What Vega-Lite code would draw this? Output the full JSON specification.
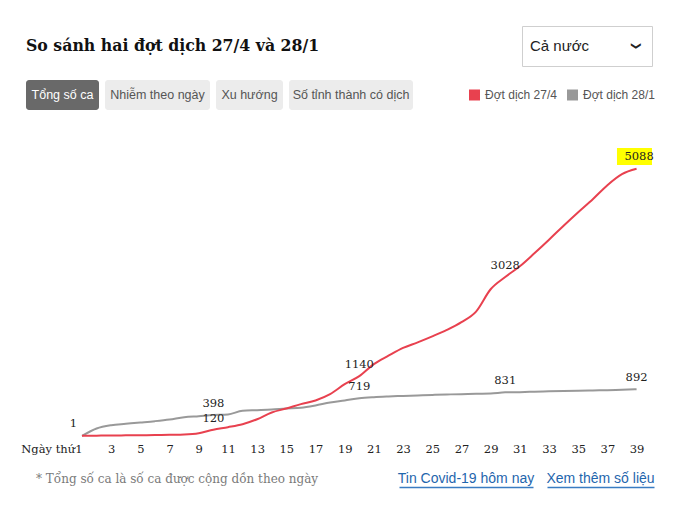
{
  "$schema": "https://vega.github.io/schema/vega-lite/v6.json",
  "background": "white",
  "padding": {"left": 20, "top": 25, "right": 10, "bottom": 10},
  "spacing": 33,
  "config": {"view": {"stroke": null}, "text": {"font": "Liberation Sans"}},
  "datasets": {
    "cases": [
      {"day": 1, "series": "Đợt dịch 28/1", "cases": 1},
      {"day": 2, "series": "Đợt dịch 28/1", "cases": 143},
      {"day": 3, "series": "Đợt dịch 28/1", "cases": 206},
      {"day": 4, "series": "Đợt dịch 28/1", "cases": 232},
      {"day": 5, "series": "Đợt dịch 28/1", "cases": 257},
      {"day": 6, "series": "Đợt dịch 28/1", "cases": 283},
      {"day": 7, "series": "Đợt dịch 28/1", "cases": 315},
      {"day": 8, "series": "Đợt dịch 28/1", "cases": 359},
      {"day": 9, "series": "Đợt dịch 28/1", "cases": 378},
      {"day": 10, "series": "Đợt dịch 28/1", "cases": 398},
      {"day": 11, "series": "Đợt dịch 28/1", "cases": 410},
      {"day": 12, "series": "Đợt dịch 28/1", "cases": 480},
      {"day": 13, "series": "Đợt dịch 28/1", "cases": 492},
      {"day": 14, "series": "Đợt dịch 28/1", "cases": 505},
      {"day": 15, "series": "Đợt dịch 28/1", "cases": 524},
      {"day": 16, "series": "Đợt dịch 28/1", "cases": 538},
      {"day": 17, "series": "Đợt dịch 28/1", "cases": 582},
      {"day": 18, "series": "Đợt dịch 28/1", "cases": 639},
      {"day": 19, "series": "Đợt dịch 28/1", "cases": 677},
      {"day": 20, "series": "Đợt dịch 28/1", "cases": 719},
      {"day": 21, "series": "Đợt dịch 28/1", "cases": 740},
      {"day": 22, "series": "Đợt dịch 28/1", "cases": 753},
      {"day": 23, "series": "Đợt dịch 28/1", "cases": 763},
      {"day": 24, "series": "Đợt dịch 28/1", "cases": 772},
      {"day": 25, "series": "Đợt dịch 28/1", "cases": 782},
      {"day": 26, "series": "Đợt dịch 28/1", "cases": 791},
      {"day": 27, "series": "Đợt dịch 28/1", "cases": 797},
      {"day": 28, "series": "Đợt dịch 28/1", "cases": 805},
      {"day": 29, "series": "Đợt dịch 28/1", "cases": 810},
      {"day": 30, "series": "Đợt dịch 28/1", "cases": 831},
      {"day": 31, "series": "Đợt dịch 28/1", "cases": 835},
      {"day": 32, "series": "Đợt dịch 28/1", "cases": 843},
      {"day": 33, "series": "Đợt dịch 28/1", "cases": 850},
      {"day": 34, "series": "Đợt dịch 28/1", "cases": 856},
      {"day": 35, "series": "Đợt dịch 28/1", "cases": 862},
      {"day": 36, "series": "Đợt dịch 28/1", "cases": 868},
      {"day": 37, "series": "Đợt dịch 28/1", "cases": 873},
      {"day": 38, "series": "Đợt dịch 28/1", "cases": 882},
      {"day": 39, "series": "Đợt dịch 28/1", "cases": 892},
      {"day": 1, "series": "Đợt dịch 27/4", "cases": 4},
      {"day": 2, "series": "Đợt dịch 27/4", "cases": 6},
      {"day": 3, "series": "Đợt dịch 27/4", "cases": 10},
      {"day": 4, "series": "Đợt dịch 27/4", "cases": 12},
      {"day": 5, "series": "Đợt dịch 27/4", "cases": 14},
      {"day": 6, "series": "Đợt dịch 27/4", "cases": 17},
      {"day": 7, "series": "Đợt dịch 27/4", "cases": 23},
      {"day": 8, "series": "Đợt dịch 27/4", "cases": 29},
      {"day": 9, "series": "Đợt dịch 27/4", "cases": 53},
      {"day": 10, "series": "Đợt dịch 27/4", "cases": 120},
      {"day": 11, "series": "Đợt dịch 27/4", "cases": 168},
      {"day": 12, "series": "Đợt dịch 27/4", "cases": 225},
      {"day": 13, "series": "Đợt dịch 27/4", "cases": 320},
      {"day": 14, "series": "Đợt dịch 27/4", "cases": 448},
      {"day": 15, "series": "Đợt dịch 27/4", "cases": 524},
      {"day": 16, "series": "Đợt dịch 27/4", "cases": 607},
      {"day": 17, "series": "Đợt dịch 27/4", "cases": 677},
      {"day": 18, "series": "Đợt dịch 27/4", "cases": 797},
      {"day": 19, "series": "Đợt dịch 27/4", "cases": 988},
      {"day": 20, "series": "Đợt dịch 27/4", "cases": 1140},
      {"day": 21, "series": "Đợt dịch 27/4", "cases": 1369},
      {"day": 22, "series": "Đợt dịch 27/4", "cases": 1529},
      {"day": 23, "series": "Đợt dịch 27/4", "cases": 1678},
      {"day": 24, "series": "Đợt dịch 27/4", "cases": 1783},
      {"day": 25, "series": "Đợt dịch 27/4", "cases": 1897},
      {"day": 26, "series": "Đợt dịch 27/4", "cases": 2021},
      {"day": 27, "series": "Đợt dịch 27/4", "cases": 2170},
      {"day": 28, "series": "Đợt dịch 27/4", "cases": 2370},
      {"day": 29, "series": "Đợt dịch 27/4", "cases": 2795},
      {"day": 30, "series": "Đợt dịch 27/4", "cases": 3028},
      {"day": 31, "series": "Đợt dịch 27/4", "cases": 3232},
      {"day": 32, "series": "Đợt dịch 27/4", "cases": 3480},
      {"day": 33, "series": "Đợt dịch 27/4", "cases": 3738},
      {"day": 34, "series": "Đợt dịch 27/4", "cases": 4005},
      {"day": 35, "series": "Đợt dịch 27/4", "cases": 4262},
      {"day": 36, "series": "Đợt dịch 27/4", "cases": 4510},
      {"day": 37, "series": "Đợt dịch 27/4", "cases": 4777},
      {"day": 38, "series": "Đợt dịch 27/4", "cases": 4987},
      {"day": 39, "series": "Đợt dịch 27/4", "cases": 5088}
    ]
  },
  "vconcat": [
    {
      "vconcat": [
        {
          "hconcat": [
            {
              "width": 495, "height": 40,
              "data": {"values": [{"t": "So sánh hai đợt dịch 27/4 và 28/1"}]},
              "mark": {"type": "text", "align": "left", "baseline": "middle", "font": "DejaVu Serif Condensed, DejaVu Serif", "fontSize": 17.5, "fontWeight": "bold", "color": "#111111"},
              "encoding": {
                "x": {"field": "t", "type": "nominal", "scale": {"type": "point", "align": 0}, "axis": null},
                "text": {"field": "t"}
              }
            },
            {
              "width": 130, "height": 40,
              "view": {"stroke": "#cfcfcf", "strokeWidth": 1, "fill": "white"},
              "data": {"values": [{"t": "Cả nước", "icon": "❯"}]},
              "layer": [
                {
                  "mark": {"type": "text", "align": "left", "baseline": "middle", "dx": 8, "fontSize": 15, "color": "#222222"},
                  "encoding": {
                    "x": {"field": "t", "type": "nominal", "scale": {"type": "point", "align": 0}, "axis": null},
                    "text": {"field": "t"}
                  }
                },
                {
                  "mark": {"type": "text", "align": "center", "baseline": "middle", "angle": 90, "dy": 16, "font": "DejaVu Sans", "fontSize": 10, "fontWeight": "bold", "color": "#222222"},
                  "encoding": {
                    "x": {"field": "icon", "type": "nominal", "scale": {"type": "point", "align": 1}, "axis": null},
                    "text": {"field": "icon"}
                  }
                }
              ],
              "resolve": {"scale": {"x": "independent"}}
            }
          ],
          "spacing": 0
        },
        {
          "hconcat": [
            {
              "hconcat": [
                {
                  "width": 73, "height": 30,
                  "view": {"fill": "#696969", "stroke": null, "cornerRadius": 3},
                  "data": {"values": [{"t": "Tổng số ca"}]},
                  "mark": {"type": "text", "baseline": "middle", "fontSize": 12.5, "color": "white"},
                  "encoding": {"text": {"field": "t"}}
                },
                {
                  "width": 105, "height": 30,
                  "view": {"fill": "#ececec", "stroke": null, "cornerRadius": 3},
                  "data": {"values": [{"t": "Nhiễm theo ngày"}]},
                  "mark": {"type": "text", "baseline": "middle", "fontSize": 12.5, "color": "#555555"},
                  "encoding": {"text": {"field": "t"}}
                },
                {
                  "width": 67, "height": 30,
                  "view": {"fill": "#ececec", "stroke": null, "cornerRadius": 3},
                  "data": {"values": [{"t": "Xu hướng"}]},
                  "mark": {"type": "text", "baseline": "middle", "fontSize": 12.5, "color": "#555555"},
                  "encoding": {"text": {"field": "t"}}
                },
                {
                  "width": 124, "height": 30,
                  "view": {"fill": "#ececec", "stroke": null, "cornerRadius": 3},
                  "data": {"values": [{"t": "Số tỉnh thành có dịch"}]},
                  "mark": {"type": "text", "baseline": "middle", "fontSize": 12.5, "color": "#555555"},
                  "encoding": {"text": {"field": "t"}}
                }
              ],
              "spacing": 6
            },
            {
              "width": 98, "height": 30,
              "data": {"values": [{"s": "Đợt dịch 27/4"}, {"s": "Đợt dịch 28/1"}]},
              "encoding": {
                "x": {"field": "s", "type": "nominal", "scale": {"type": "point", "padding": 0}, "axis": null}
              },
              "layer": [
                {
                  "mark": {"type": "point", "shape": "square", "filled": true, "size": 121, "opacity": 1},
                  "encoding": {
                    "color": {"field": "s", "type": "nominal", "scale": {"domain": ["Đợt dịch 27/4", "Đợt dịch 28/1"], "range": ["#e8414f", "#999999"]}, "legend": null}
                  }
                },
                {
                  "mark": {"type": "text", "align": "left", "baseline": "middle", "dx": 10.5, "fontSize": 12, "color": "#555555"},
                  "encoding": {"text": {"field": "s"}}
                }
              ]
            }
          ],
          "spacing": 55.5
        }
      ],
      "spacing": 13
    },
    {
      "vconcat": [
        {
          "width": 617, "height": 293,
          "data": {"name": "cases"},
          "encoding": {
            "x": {
              "field": "day", "type": "quantitative",
              "scale": {"domain": [-2.837, 39.44], "nice": false, "zero": false},
              "axis": {
                "values": [1, 3, 5, 7, 9, 11, 13, 15, 17, 19, 21, 23, 25, 27, 29, 31, 33, 35, 37, 39],
                "labelExpr": "datum.value == 1 ? 'Ngày thứ1' : datum.label",
                "labelAlign": {"condition": {"test": "datum.value == 1", "value": "right"}, "value": "center"},
                "domain": false,
                "ticks": false, "tickSize": 0, "grid": false,
                "labelPadding": 7, "labelFont": "DejaVu Serif", "labelFontSize": 11.5, "labelColor": "#222222",
                "title": null, "labelOverlap": false, "labelFlush": false, "labelBound": false
              }
            },
            "y": {
              "field": "cases", "type": "quantitative",
              "scale": {"domain": [0, 5580], "nice": false},
              "axis": null
            }
          },
          "layer": [
            {
              "data": {"values": [{}]},
              "mark": {"type": "rule", "color": "#e2e2e2", "strokeWidth": 1.5},
              "encoding": {
                "x": {"datum": 0.863},
                "x2": {"datum": 39.44},
                "y": {"datum": 0}
              }
            },
            {
              "mark": {"type": "line", "strokeWidth": 2, "interpolate": "monotone"},
              "encoding": {
                "color": {"field": "series", "type": "nominal", "scale": {"domain": ["Đợt dịch 27/4", "Đợt dịch 28/1"], "range": ["#e8414f", "#8a8a8a"]}, "legend": null}
              }
            },
            {
              "transform": [{"filter": "datum.series == 'Đợt dịch 27/4' && datum.day == 39"}],
              "mark": {"type": "point", "shape": "M -1.96 -2.08 L 1.54 -2.08 L 1.54 -0.38 L -1.96 -0.38 Z", "size": 400, "filled": true, "color": "#ffff00", "opacity": 1, "strokeWidth": 0}
            },
            {
              "transform": [{"filter": "datum.day == 10 || datum.day == 20 || datum.day == 30 || (datum.series == 'Đợt dịch 28/1' && datum.day == 39)"}],
              "mark": {"type": "text", "baseline": "middle", "dy": -11, "font": "DejaVu Serif", "fontSize": 11.5, "color": "#222222"},
              "encoding": {"text": {"field": "cases", "type": "quantitative", "format": "d"}}
            },
            {
              "transform": [{"filter": "datum.series == 'Đợt dịch 28/1' && datum.day == 1"}],
              "mark": {"type": "text", "align": "right", "baseline": "middle", "dx": -5, "dy": -12, "font": "DejaVu Serif", "fontSize": 11.5, "color": "#222222"},
              "encoding": {"text": {"field": "cases", "type": "quantitative", "format": "d"}}
            },
            {
              "transform": [{"filter": "datum.series == 'Đợt dịch 27/4' && datum.day == 39"}],
              "mark": {"type": "text", "baseline": "middle", "dx": 2.5, "dy": -12, "font": "DejaVu Serif", "fontSize": 11.5, "color": "#222222"},
              "encoding": {"text": {"field": "cases", "type": "quantitative", "format": "d"}}
            }
          ]
        },
        {
          "hconcat": [
            {
              "width": 360, "height": 22,
              "data": {"values": [{"t": "* Tổng số ca là số ca được cộng dồn theo ngày"}]},
              "mark": {"type": "text", "align": "left", "baseline": "middle", "dx": 10, "font": "DejaVu Serif", "fontSize": 12, "color": "#7a7a7a"},
              "encoding": {
                "x": {"field": "t", "type": "nominal", "scale": {"type": "point", "align": 0}, "axis": null},
                "text": {"field": "t"}
              }
            },
            {
              "width": 134, "height": 19,
              "data": {"values": [{"t": "Tin Covid-19 hôm nay"}]},
              "mark": {"type": "text", "baseline": "middle", "dy": 1.5, "fontSize": 14, "color": "#1f66ad"},
              "encoding": {
                "x": {"field": "t", "type": "nominal", "scale": {"type": "point"}, "axis": {"orient": "bottom", "domainColor": "#3a7cc2", "domainWidth": 1.5, "ticks": false, "labels": false, "grid": false, "title": null}},
                "text": {"field": "t"}
              }
            },
            {
              "width": 107, "height": 19,
              "data": {"values": [{"t": "Xem thêm số liệu"}]},
              "mark": {"type": "text", "baseline": "middle", "dy": 1.5, "fontSize": 14, "color": "#1f66ad"},
              "encoding": {
                "x": {"field": "t", "type": "nominal", "scale": {"type": "point"}, "axis": {"orient": "bottom", "domainColor": "#3a7cc2", "domainWidth": 1.5, "ticks": false, "labels": false, "grid": false, "title": null}},
                "text": {"field": "t"}
              }
            }
          ],
          "spacing": 11
        }
      ],
      "spacing": 13
    }
  ]
}
